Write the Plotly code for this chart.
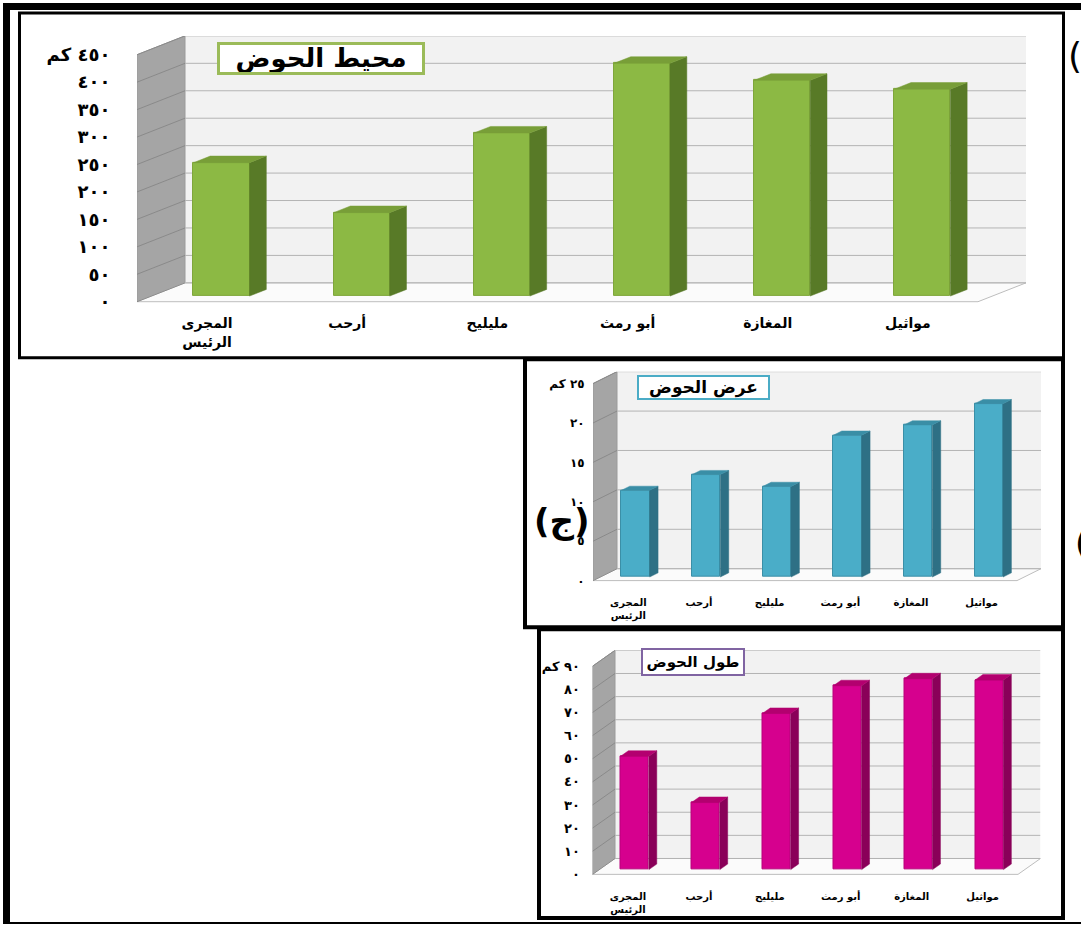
import plotly.graph_objects as go

FIG_W, FIG_H = 1081, 931
FONT = "DejaVu Sans, Arial, sans-serif"

categories = ["المجرى<br>الرئيس", "أرحب", "مليليح", "أبو رمث", "المغازة", "مواثيل"]

# basin perimeter (km)
perimeter = [243, 152, 297, 424, 393, 377]
perimeter_ticks = [0, 50, 100, 150, 200, 250, 300, 350, 400, 450]
perimeter_ticktext = ["٠", "٥٠", "١٠٠", "١٥٠", "٢٠٠", "٢٥٠", "٣٠٠", "٣٥٠", "٤٠٠", "٤٥٠ كم"]

# basin width (km)
basin_width = [11, 13, 11.5, 18, 19.3, 22]
width_ticks = [0, 5, 10, 15, 20, 25]
width_ticktext = ["٠", "٥", "١٠", "١٥", "٢٠", "٢٥ كم"]

# basin length (km)
basin_length = [49, 29, 67.5, 79.5, 82.5, 82]
length_ticks = [0, 10, 20, 30, 40, 50, 60, 70, 80, 90]
length_ticktext = ["٠", "١٠", "٢٠", "٣٠", "٤٠", "٥٠", "٦٠", "٧٠", "٨٠", "٩٠ كم"]

# pseudo-3D layout of each column chart, in page pixels
panels = [
    dict(title="محيط الحوض", values=perimeter, ticks=perimeter_ticks, ticktext=perimeter_ticktext,
         front_left=137, front_right=978, zero_px=304, unit_px=0.553, wall_dx=48, wall_dy=19,
         face="#8cb944", side="#587a27", cap="#789e38", edge="#7fa63b",
         title_color="#9bbb59", title_xy=(321, 59), title_box=(202, 27), title_size=26, title_bw=3,
         ytick_size=18, ytick_len=22, xtick_size=14, xtick_len=6),
    dict(title="عرض الحوض", values=basin_width, ticks=width_ticks, ticktext=width_ticktext,
         front_left=593, front_right=1017, zero_px=585, unit_px=7.94, wall_dx=24, wall_dy=12,
         face="#4aadc8", side="#2e7085", cap="#3a8ea6", edge="#3b8fa7",
         title_color="#4bacc6", title_xy=(703.5, 390.5), title_box=(129, 21), title_size=17, title_bw=2,
         ytick_size=12, ytick_len=5, xtick_size=10, xtick_len=9),
    dict(title="طول الحوض", values=basin_length, ticks=length_ticks, ticktext=length_ticktext,
         front_left=592.5, front_right=1018, zero_px=881, unit_px=2.33, wall_dx=22.5, wall_dy=16,
         face="#d6008e", side="#8a0059", cap="#b3006f", edge="#b8007a",
         title_color="#8064a2", title_xy=(693, 667), title_box=(100, 24), title_size=15, title_bw=2,
         ytick_size=13, ytick_len=9, xtick_size=10, xtick_len=10),
]

BAR_W = 0.4          # bar width as a fraction of a category slot
DEPTH0, DEPTH1 = 0.3, 0.65   # bar front / back as a fraction of the floor depth
PAD_PX = 3


def px_x(p):
    return p / FIG_W


def px_y(p):
    return 1 - p / FIG_H


fig = go.Figure()
shapes = []
annotations = []
layout_axes = {}

# page frame and panel boxes
def rect(x0, y0, x1, y1, **kw):
    d = dict(type="rect", xref="paper", yref="paper",
             x0=px_x(x0), x1=px_x(x1), y0=px_y(y0), y1=px_y(y1), layer="above")
    d.update(kw)
    shapes.append(d)

rect(3, 3, 1081, 10, fillcolor="black", line=dict(width=0))
rect(3, 3, 10, 931, fillcolor="black", line=dict(width=0))
rect(3, 929, 1081, 931, fillcolor="black", line=dict(width=0))
rect(19.5, 13, 1063.5, 360.5, line=dict(color="black", width=3))
rect(525, 362, 1063, 632, line=dict(color="black", width=4))
rect(539, 634, 1063, 925, line=dict(color="black", width=4))

n = len(categories)
for k, p in enumerate(panels):
    xa = "x" if k == 0 else f"x{k + 1}"
    ya = "y" if k == 0 else f"y{k + 1}"
    cat_px = (p["front_right"] - p["front_left"]) / n
    ddx = p["wall_dx"] / cat_px
    ddy = p["wall_dy"] / p["unit_px"]
    top = p["ticks"][-1]

    x_range = [-0.5, n - 0.5 + ddx]
    y_range = [-PAD_PX / p["unit_px"], top + ddy]
    x_dom = [px_x(p["front_left"]), px_x(p["front_right"] + p["wall_dx"])]
    y_dom = [px_y(p["zero_px"] + PAD_PX), px_y(p["zero_px"] - top * p["unit_px"] - p["wall_dy"])]

    layout_axes["xaxis" if k == 0 else f"xaxis{k + 1}"] = dict(
        domain=x_dom, range=x_range, anchor=ya, tickmode="array",
        tickvals=list(range(n)), ticktext=categories,
        ticks="outside", ticklen=p["xtick_len"], tickcolor="rgba(0,0,0,0)",
        tickfont=dict(family=FONT, size=p["xtick_size"], color="black", weight="bold"),
        showgrid=False, zeroline=False, showline=False, fixedrange=True)
    layout_axes["yaxis" if k == 0 else f"yaxis{k + 1}"] = dict(
        domain=y_dom, range=y_range, anchor=xa, tickmode="array",
        tickvals=p["ticks"], ticktext=p["ticktext"],
        ticks="outside", ticklen=p["ytick_len"], tickcolor="rgba(0,0,0,0)",
        tickfont=dict(family=FONT, size=p["ytick_size"], color="black", weight="bold"),
        showgrid=False, zeroline=False, showline=False, fixedrange=True)

    xl, xr = -0.5, n - 0.5
    # back wall
    shapes.append(dict(type="rect", xref=xa, yref=ya, x0=xl + ddx, x1=xr + ddx, y0=ddy, y1=top + ddy,
                       fillcolor="#f2f2f2", line=dict(width=0), layer="below"))
    # side wall
    shapes.append(dict(type="path", xref=xa, yref=ya, layer="below",
                       path=f"M{xl},0 L{xl + ddx},{ddy} L{xl + ddx},{top + ddy} L{xl},{top} Z",
                       fillcolor="#a5a5a5", line=dict(color="#9a9a9a", width=1)))
    # floor
    shapes.append(dict(type="path", xref=xa, yref=ya, layer="below",
                       path=f"M{xl},0 L{xr},0 L{xr + ddx},{ddy} L{xl + ddx},{ddy} Z",
                       fillcolor="#fbfbfb", line=dict(color="#bdbdbd", width=1)))
    # gridlines on the back and side walls
    for v in p["ticks"]:
        shapes.append(dict(type="line", xref=xa, yref=ya, layer="below",
                           x0=xl + ddx, x1=xr + ddx, y0=v + ddy, y1=v + ddy,
                           line=dict(color="#b4b4b4", width=1)))
        shapes.append(dict(type="line", xref=xa, yref=ya, layer="below",
                           x0=xl, x1=xl + ddx, y0=v, y1=v + ddy,
                           line=dict(color="#8a8a8a", width=1)))

    # front faces of the columns
    shift_x = DEPTH0 * ddx
    base = DEPTH0 * ddy
    xs = [i + shift_x for i in range(n)]
    fig.add_trace(go.Bar(x=xs, y=p["values"], base=base, width=BAR_W,
                         marker=dict(color=p["face"], line=dict(color=p["edge"], width=1)),
                         xaxis=xa, yaxis=ya, showlegend=False, hoverinfo="skip"))

    # side and top faces from the same values
    dd_x = (DEPTH1 - DEPTH0) * ddx
    dd_y = (DEPTH1 - DEPTH0) * ddy
    sx, sy, tx, ty = [], [], [], []
    for xc, v in zip(xs, p["values"]):
        left, right = xc - BAR_W / 2, xc + BAR_W / 2
        y_top = base + v
        sx += [right, right + dd_x, right + dd_x, right, right, None]
        sy += [base, base + dd_y, y_top + dd_y, y_top, base, None]
        tx += [left, right, right + dd_x, left + dd_x, left, None]
        ty += [y_top, y_top, y_top + dd_y, y_top + dd_y, y_top, None]
    fig.add_trace(go.Scatter(x=sx, y=sy, mode="lines", fill="toself", fillcolor=p["side"],
                             line=dict(color=p["side"], width=0.5), xaxis=xa, yaxis=ya,
                             showlegend=False, hoverinfo="skip"))
    fig.add_trace(go.Scatter(x=tx, y=ty, mode="lines", fill="toself", fillcolor=p["cap"],
                             line=dict(color=p["cap"], width=0.5), xaxis=xa, yaxis=ya,
                             showlegend=False, hoverinfo="skip"))

    # boxed chart title
    tw, th = p["title_box"]
    annotations.append(dict(xref="paper", yref="paper", x=px_x(p["title_xy"][0]), y=px_y(p["title_xy"][1]),
                            xanchor="center", yanchor="middle", showarrow=False,
                            text=f"<b>{p['title']}</b>", width=tw, height=th, borderpad=0,
                            bgcolor="white", bordercolor=p["title_color"], borderwidth=p["title_bw"],
                            font=dict(family=FONT, size=p["title_size"], color="black")))

# figure part labels
annotations.append(dict(xref="paper", yref="paper", x=px_x(562), y=px_y(525), showarrow=False,
                        xanchor="center", yanchor="middle", text="<b>(ج)</b>",
                        font=dict(family=FONT, size=34, color="black")))
annotations.append(dict(xref="paper", yref="paper", x=px_x(1066), y=px_y(54), showarrow=False,
                        xanchor="left", yanchor="middle", text="(أ)",
                        font=dict(family=FONT, size=36, color="black")))
annotations.append(dict(xref="paper", yref="paper", x=px_x(1073), y=px_y(547), showarrow=False,
                        xanchor="left", yanchor="middle", text="<b>(ب)</b>",
                        font=dict(family=FONT, size=34, color="black")))

fig.update_layout(width=FIG_W, height=FIG_H, margin=dict(l=0, r=0, t=0, b=0),
                  paper_bgcolor="white", plot_bgcolor="rgba(0,0,0,0)",
                  shapes=shapes, annotations=annotations, showlegend=False,
                  bargap=0, hovermode=False, **layout_axes)

fig.write_html("out.html", config={"displayModeBar": False})
